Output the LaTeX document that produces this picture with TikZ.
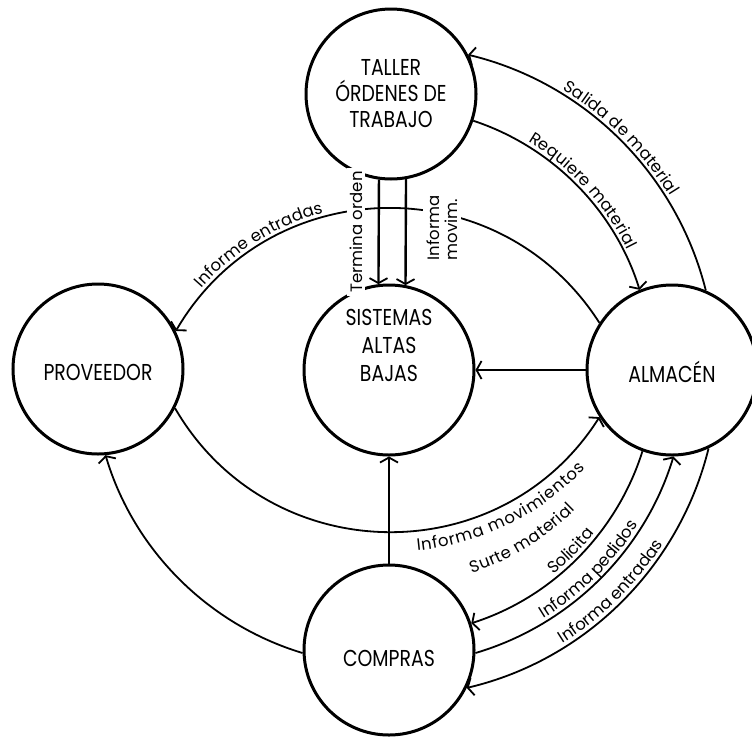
\documentclass[tikz,border=0pt]{standalone}
\usepackage{fontspec}
\setmainfont{Poppins}
\newfontfamily\capsfont{Poppins}[FakeStretch=0.82]
\newcommand\lblfont{\fontsize{16.5}{18}\selectfont}
\usetikzlibrary{arrows.meta,decorations.text}
\begin{document}
\begin{tikzpicture}[x=1pt,y=1pt,
  state/.style={circle, draw, line width=3pt, minimum size=170pt, inner sep=0pt,
    font=\capsfont\fontsize{23}{26}\selectfont, align=center},
  flow/.style={line width=1.8pt, -{Straight Barb[length=5pt,width=18pt,line width=1.8pt]}},
  heavy/.style={flow, line width=2.4pt},
  lbl/.style={font=\lblfont},
  arclabel/.style={decorate, decoration={text along path, raise=4pt, text align=center, text={|\lblfont|#1}}},
]
\useasboundingbox (0,-737) rectangle (752,0);

% entities
\node[state] (taller) at (391,-94) {TALLER\\ÓRDENES DE\\TRABAJO};
\node[state, font=\capsfont\fontsize{23}{28}\selectfont, text height=24pt] (sistemas) at (389,-370) {SISTEMAS\\ALTAS\\BAJAS};
\node[state, text height=22pt, text depth=0pt] (proveedor) at (98,-369) {PROVEEDOR};
\node[state, text height=24pt, text depth=0pt] (almacen) at (672,-370) {ALMACÉN};
\node[state, text height=32pt, text depth=0pt] (compras) at (389,-650) {COMPRAS};

% flows between taller and almacen
\draw[flow] (taller.-18.8) to[bend left=27.2, looseness=0.9] (almacen.112.9);
\draw[flow] (almacen.67.7) to[bend right=31.15, looseness=0.92] (taller.27.95);

% flows into sistemas
\draw[heavy] (taller.-98.8) -- (sistemas.97.4);
\draw[heavy] (taller.-80.5) -- (sistemas.79.2);
\draw[flow] (almacen.180) -- (sistemas.0);
\draw[heavy] (compras.90) -- (sistemas.-90);

% big arcs between almacen and proveedor
\draw[flow] (almacen.147.5) to[bend right=58.55, looseness=1.12] (proveedor.26.8);
\draw[flow] (proveedor.-27.6) to[bend right=58.7, looseness=1.12] (almacen.-147.5);

% flows between almacen and compras
\draw[flow] (almacen.-110.8) to[bend left=27.4, looseness=0.9] (compras.18.9);
\draw[flow] (compras.-2.4) to[bend right=28.3, looseness=0.906] (almacen.-89.7);
\draw[flow] (almacen.-65.85) to[bend left=31.45, looseness=0.918] (compras.-26.7);

% compras to proveedor
\draw[flow] (compras.182.4) to[bend left=28.35, looseness=0.906] (proveedor.-85);

% labels following the arcs
\path[arclabel={Salida de material}] (taller.27.95) to[bend left=31.15, looseness=0.92] (almacen.67.7);
\path[decorate, decoration={text along path, raise=4pt, text align={left indent=58pt}, text={|\lblfont|Requiere material}}]
  (taller.-18.8) to[bend left=27.2, looseness=0.9] (almacen.112.9);
\path[decorate, decoration={text along path, raise=4pt, text align={left indent=49pt}, text={|\lblfont|Informe entradas}}]
  (proveedor.26.8) to[bend left=58.55, looseness=1.12] (almacen.147.5);
\path[decorate, decoration={text along path, raise=-20pt, text align={left indent=285pt}, text={|\lblfont|Informa movimientos}}]
  (proveedor.-27.6) to[bend right=58.7, looseness=1.12] (almacen.-147.5);
\path[decorate, decoration={text along path, raise=-14pt, text align={left indent=338pt}, text={|\lblfont|Surte material}}]
  ([yshift=-40pt]proveedor.-27.6) to[bend right=58.7, looseness=1.12] ([yshift=-40pt]almacen.-147.5);
\path[arclabel={Solicita}] (compras.18.9) to[bend right=27.4, looseness=0.9] (almacen.-110.8);
\path[arclabel={Informa pedidos}] (compras.-2.4) to[bend right=28.3, looseness=0.906] (almacen.-89.7);
\path[arclabel={Informa entradas}] (compras.-26.7) to[bend right=31.45, looseness=0.918] (almacen.-65.85);

% vertical labels between taller and sistemas
\node[lbl, rotate=90, fill=white, inner sep=3pt] (termina) at (356,-232) {Termina orden};
\node[lbl, rotate=90, fill=white, inner sep=4pt, align=left] (movim) at (442,-228) {Informa\\movim.};
\end{tikzpicture}
\end{document}
